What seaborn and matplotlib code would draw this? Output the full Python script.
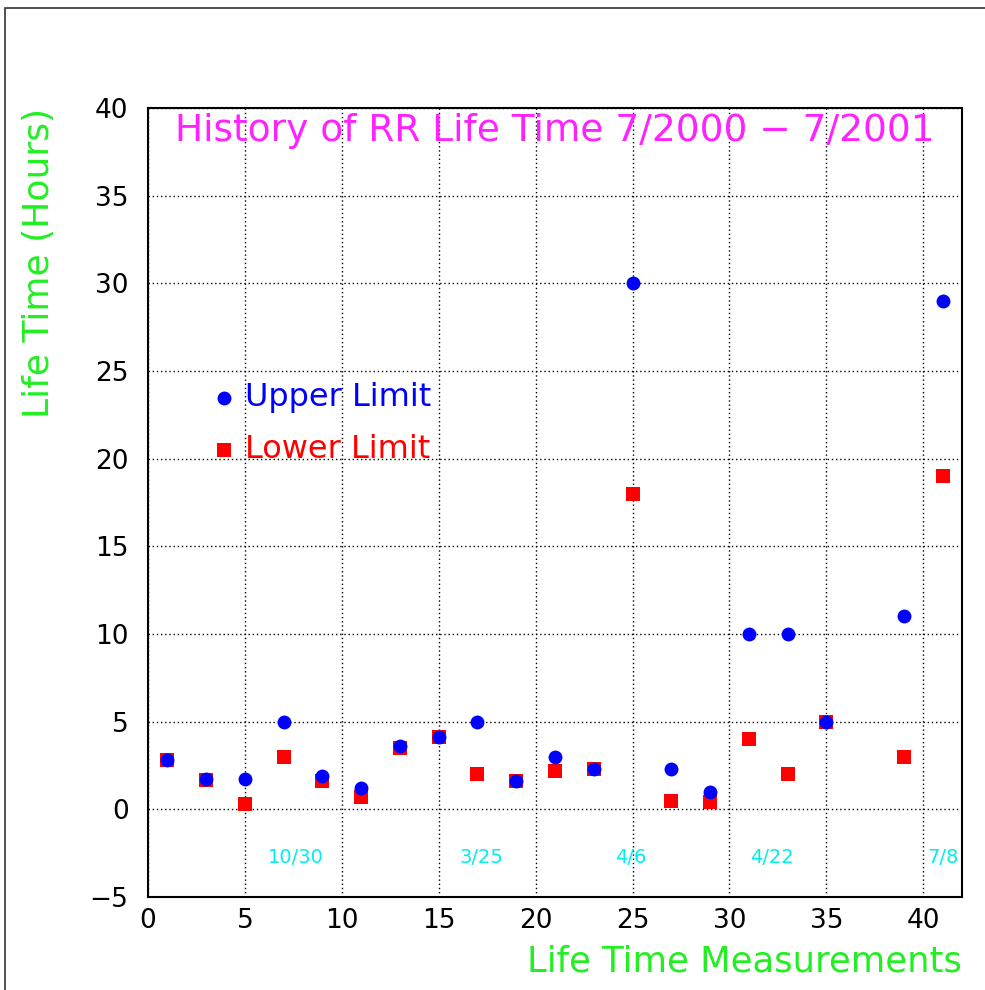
import numpy as np
import pandas as pd
import matplotlib
matplotlib.use("Agg")
import matplotlib.pyplot as plt
import seaborn as sns
from matplotlib.ticker import MultipleLocator
from matplotlib.patches import Rectangle

# measurement index (every second measurement)
meas = [1, 3, 5, 7, 9, 11, 13, 15, 17, 19, 21, 23, 25, 27, 29, 31, 33, 35, 39, 41]
upper = [2.8, 1.75, 1.75, 5.0, 1.9, 1.2, 3.6, 4.1, 5.0, 1.6, 3.0, 2.3, 30.0, 2.3, 1.0,
         10.0, 10.0, 5.0, 11.0, 29.0]
lower = [2.8, 1.7, 0.3, 3.0, 1.6, 0.7, 3.5, 4.1, 2.0, 1.6, 2.2, 2.3, 18.0, 0.5, 0.4,
         4.0, 2.0, 5.0, 3.0, 19.0]

# date markers
date_labels = ["10/30", "3/25", "4/6", "4/22", "7/8"]
date_x = [7.6, 17.2, 24.9, 32.2, 41.0]
date_y = -2.75

df = pd.DataFrame({"meas": meas, "upper": upper, "lower": lower})

sns.set_style("white")
plt.rcParams["font.family"] = ["DejaVu Sans"]

GREEN = "#22ee22"
fig = plt.figure(figsize=(9.85, 9.9), dpi=100)
ax = fig.add_axes([0.1503, 0.0939, 0.8263, 0.797])

sns.scatterplot(data=df, x="meas", y="upper", ax=ax, color="#0000ff", marker="o",
                s=100, linewidth=0, label="Upper Limit", zorder=3)
sns.scatterplot(data=df, x="meas", y="lower", ax=ax, color="#ff0000", marker="s",
                s=90, linewidth=0, label="Lower Limit", zorder=2)

ax.set_xlim(0, 42)
ax.set_ylim(-5, 40)
ax.xaxis.set_major_locator(MultipleLocator(5))
ax.xaxis.set_minor_locator(MultipleLocator(1))
ax.yaxis.set_major_locator(MultipleLocator(5))
ax.yaxis.set_minor_locator(MultipleLocator(1))
ax.tick_params(which="both", direction="in", colors="black", labelsize=19)
ax.tick_params(which="major", length=11, width=1.2)
ax.tick_params(which="minor", length=5, width=1.0)
ax.tick_params(axis="y", pad=14)
ax.tick_params(axis="x", pad=8)
ax.grid(True, which="major", linestyle=(0, (1, 2)), color="black", linewidth=1.0)
for sp in ax.spines.values():
    sp.set_color("black")
    sp.set_linewidth(1.5)

ax.set_xlabel("Life Time Measurements", color=GREEN, fontsize=25.5, ha="right")
ax.xaxis.set_label_coords(1.0, -0.06)
ax.set_ylabel("Life Time (Hours)", color=GREEN, fontsize=26, ha="center", va="center")
ax.yaxis.set_label_coords(-0.134, 0.804)

ax.text(0.5, 0.971, "History of RR Life Time 7/2000 \u2212 7/2001", transform=ax.transAxes,
        ha="center", va="center", color="#ff22ff", fontsize=27)

for lab, xv in zip(date_labels, date_x):
    ax.text(xv, date_y, lab, color="#00eeee", fontsize=14, ha="center", va="center")

leg = ax.legend(loc="center left", bbox_to_anchor=(0.082, 0.600), frameon=False,
                fontsize=23, handletextpad=0.35, labelspacing=0.65, borderpad=0,
                borderaxespad=0, handlelength=0.6, markerscale=1.0)
for txt, col in zip(leg.get_texts(), ["#0000ff", "#ff0000"]):
    txt.set_color(col)

# outer frame
fig.patches.append(Rectangle((0.005, -0.01), 1.0, 1.002, transform=fig.transFigure,
                             fill=False, edgecolor="#333333", linewidth=1.2))

fig.savefig("out.png", dpi=100)
